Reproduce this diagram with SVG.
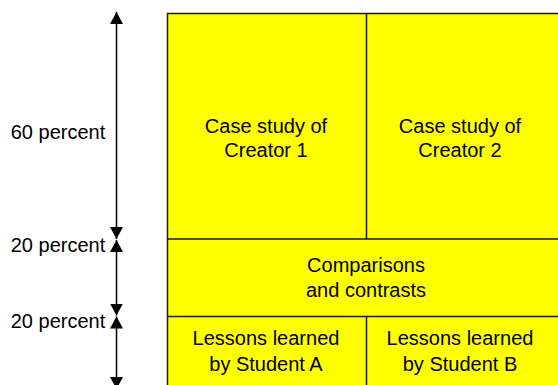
<svg xmlns="http://www.w3.org/2000/svg" width="558" height="385" viewBox="0 0 558 385">
<style>
.box{fill:#FFFF00;stroke:#1a1a1a;stroke-width:1.5}
.div{fill:none;stroke:#1a1a1a;stroke-width:1.5}
.lbl{font-family:"Liberation Sans",Arial,sans-serif;font-size:20px;fill:#000;text-anchor:middle}
.arr{fill:none;stroke:#000;stroke-width:1.5;marker-start:url(#head);marker-end:url(#head)}
</style>
<defs>
<marker id="head" markerUnits="userSpaceOnUse" markerWidth="12" markerHeight="13" refX="12" refY="6.5" orient="auto-start-reverse" viewBox="0 0 12 13">
<path d="M0,0 L12,6.5 L0,13 Z" fill="#000"/>
</marker>
</defs>
<g id="connectors">
<path class="arr" d="M116.5,12 L116.5,239"/>
<path class="arr" d="M116.5,240 L116.5,315.5"/>
<path class="arr" d="M116.5,316.5 L116.5,389"/>
</g>
<g id="frame">
<rect class="box" x="167.5" y="13.5" width="400" height="380"/>
<path class="div" d="M167.5,239 H567 M167.5,316.5 H567 M366.5,13.5 V239 M366.5,316.5 V390"/>
</g>
<g id="label60"><text class="lbl" x="58" y="139">60 percent</text></g>
<g id="label20a"><text class="lbl" x="58" y="252">20 percent</text></g>
<g id="label20b"><text class="lbl" x="58" y="328">20 percent</text></g>
<g id="creator1"><text class="lbl" x="266" y="132.5">Case study of</text><text class="lbl" x="266" y="157">Creator 1</text></g>
<g id="creator2"><text class="lbl" x="460" y="132.5">Case study of</text><text class="lbl" x="460" y="157">Creator 2</text></g>
<g id="comparisons"><text class="lbl" x="366" y="272">Comparisons</text><text class="lbl" x="366" y="297">and contrasts</text></g>
<g id="studentA"><text class="lbl" x="266" y="345">Lessons learned</text><text class="lbl" x="266" y="371">by Student A</text></g>
<g id="studentB"><text class="lbl" x="460" y="345">Lessons learned</text><text class="lbl" x="460" y="371">by Student B</text></g>
</svg>
